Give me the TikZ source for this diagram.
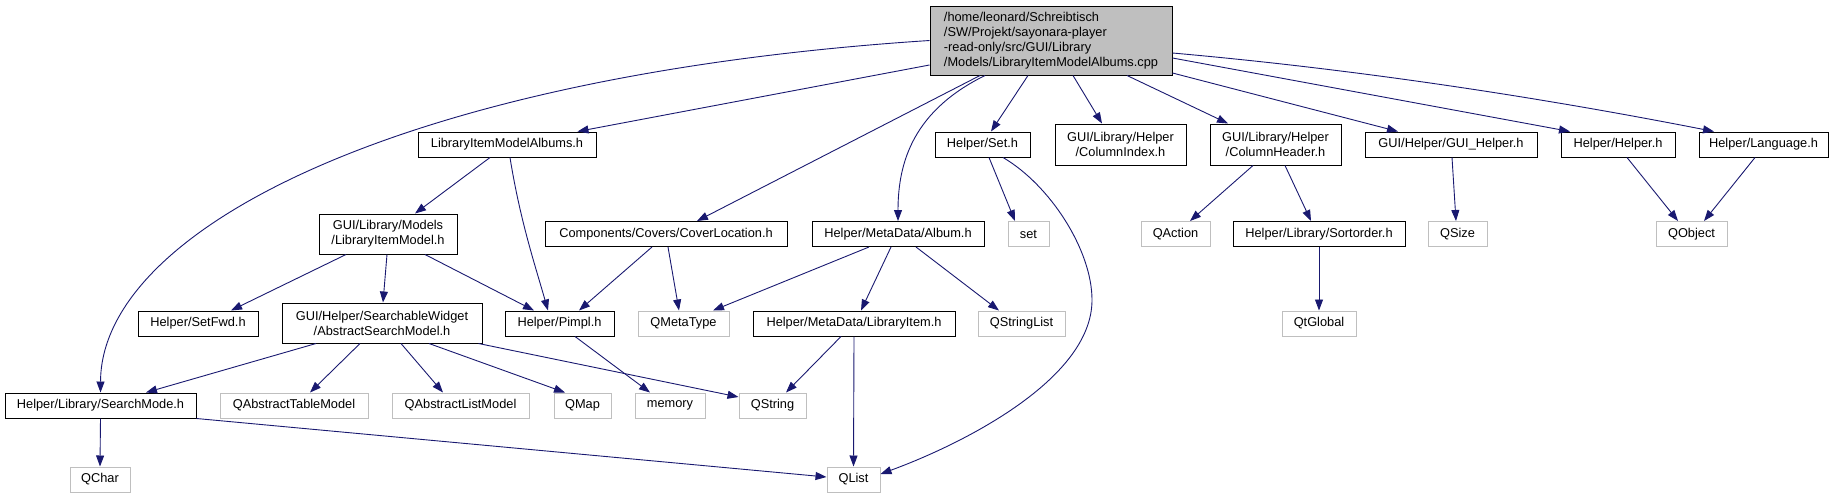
\documentclass[tikz,border=0pt]{standalone}
\usepackage{fontspec}
\setmainfont{Liberation Sans}
\usetikzlibrary{arrows.meta}
\definecolor{edgeblue}{RGB}{25,25,112}
\definecolor{boxgray}{RGB}{191,191,191}

\begin{document}
\begin{tikzpicture}[
  x=1pt, y=-1pt,
  box/.style={draw=black, line width=1pt, inner sep=0pt, minimum height=25pt, align=center, font=\fontsize{12.8}{15}\selectfont},
  sys/.style={box, draw=boxgray},
  arr/.style={edgeblue, line width=0.9pt, -{Triangle[length=11pt,width=8pt]}}
]
\useasboundingbox (0,0) rectangle (1835,499);

\node[box, fill=boxgray, align=left, minimum width=242pt, minimum height=69pt] (root) at (1051,40.5)
  {/home/leonard/Schreibtisch\\/SW/Projekt/sayonara-player\\-read-only/src/GUI/Library\\/Models/LibraryItemModelAlbums.cpp};

\node[box, minimum width=178pt] (albums) at (507,144.5) {LibraryItemModelAlbums.h};
\node[box, minimum width=95pt] (seth) at (982.5,144.5) {Helper/Set.h};
\node[box, minimum width=131pt, minimum height=41pt] (colindex) at (1120.5,144.5) {GUI/Library/Helper\\/ColumnIndex.h};
\node[box, minimum width=131pt, minimum height=41pt] (colheader) at (1275.5,144.5) {GUI/Library/Helper\\/ColumnHeader.h};
\node[box, minimum width=172pt] (guihelper) at (1451,144.5) {GUI/Helper/GUI\_Helper.h};
\node[box, minimum width=114pt] (helperh) at (1618,144.5) {Helper/Helper.h};
\node[box, minimum width=129pt] (language) at (1763.5,144.5) {Helper/Language.h};

\node[box, minimum width=138pt, minimum height=40pt] (itemmodel) at (388,234) {GUI/Library/Models\\/LibraryItemModel.h};
\node[box, minimum width=242pt] (coverloc) at (666,234) {Components/Covers/CoverLocation.h};
\node[box, minimum width=172pt] (album) at (898,234) {Helper/MetaData/Album.h};
\node[sys, minimum width=41pt] (set) at (1028.5,234) {set};
\node[sys, minimum width=69pt] (qaction) at (1175.5,234) {QAction};
\node[box, minimum width=172pt] (sortorder) at (1319,234) {Helper/Library/Sortorder.h};
\node[sys, minimum width=59pt] (qsize) at (1457.5,234) {QSize};
\node[sys, minimum width=71pt] (qobject) at (1691.5,234) {QObject};

\node[box, minimum width=120pt] (setfwd) at (198,323.5) {Helper/SetFwd.h};
\node[box, minimum width=200pt, minimum height=40pt] (searchmodel) at (382,323) {GUI/Helper/SearchableWidget\\/AbstractSearchModel.h};
\node[box, minimum width=109pt] (pimpl) at (559.5,323.5) {Helper/Pimpl.h};
\node[sys, minimum width=91pt] (qmetatype) at (683.5,323.5) {QMetaType};
\node[box, minimum width=202pt] (libitem) at (854,323.5) {Helper/MetaData/LibraryItem.h};
\node[sys, minimum width=87pt] (qstringlist) at (1021.5,323.5) {QStringList};
\node[sys, minimum width=74pt] (qtglobal) at (1319,323.5) {QtGlobal};

\node[box, minimum width=191pt] (searchmode) at (100.5,405.5) {Helper/Library/SearchMode.h};
\node[sys, minimum width=148pt] (qtablemodel) at (294,405.5) {QAbstractTableModel};
\node[sys, minimum width=137pt] (qlistmodel) at (460.5,405.5) {QAbstractListModel};
\node[sys, minimum width=57pt] (qmap) at (582.5,405.5) {QMap};
\node[sys, minimum width=70pt] (memory) at (670,405.5) {memory};
\node[sys, minimum width=67pt] (qstring) at (772.5,405.5) {QString};

\node[sys, minimum width=60pt] (qchar) at (100,479.5) {QChar};
\node[sys, minimum width=53pt] (qlist) at (853.5,479.5) {QList};

% includes of the .cpp file
\draw[arr] (root.west) .. controls (400,75) and (101,230) .. (searchmode.north);
\draw[arr] ([yshift=-24.5pt]root.west) -- ([xshift=-19pt]albums.north east);
\draw[arr] ([xshift=-71pt]root.south) -- ([xshift=31pt]coverloc.north);
\draw[arr] ([xshift=-66pt]root.south) .. controls (915,110) and (898,160) .. (album.north);
\draw[arr] ([xshift=-23pt]root.south) -- ([xshift=8.5pt]seth.north);
\draw[arr] ([xshift=22pt]root.south) -- ([xshift=-18.5pt]colindex.north);
\draw[arr] ([xshift=76pt]root.south) -- ([xshift=-47.5pt]colheader.north);
\draw[arr] ([yshift=-32.5pt]root.east) -- ([xshift=-53pt]guihelper.north);
\draw[arr] ([yshift=-17.5pt]root.east) -- ([xshift=-48pt]helperh.north);
\draw[arr] ([yshift=-12.5pt]root.east) .. controls (1353,69) and (1533,96) .. ([xshift=-49.5pt]language.north);

% headers
\draw[arr] ([xshift=-17pt]albums.south) -- ([xshift=27pt]itemmodel.north);
\draw[arr] ([xshift=3pt]albums.south) .. controls (520,220) and (535,265) .. ([xshift=-11.5pt]pimpl.north);
\draw[arr] ([xshift=-42pt]itemmodel.south) -- ([xshift=33pt]setfwd.north);
\draw[arr] ([xshift=-1pt]itemmodel.south) -- ([xshift=1pt]searchmodel.north);
\draw[arr] ([xshift=37pt]itemmodel.south) -- ([xshift=-25.5pt]pimpl.north);
\draw[arr] ([xshift=-14pt]coverloc.south) -- ([xshift=19.5pt]pimpl.north);
\draw[arr] ([xshift=2pt]coverloc.south) -- ([xshift=-4.5pt]qmetatype.north);
\draw[arr] ([xshift=-29pt]album.south) -- ([xshift=29.5pt]qmetatype.north);
\draw[arr] ([xshift=-7pt]album.south) -- ([xshift=7pt]libitem.north);
\draw[arr] ([xshift=18pt]album.south) -- ([xshift=-22.5pt]qstringlist.north);
\draw[arr] ([xshift=6.5pt]seth.south) -- ([xshift=-13.5pt]set.north);
\draw[arr] ([xshift=20.5pt]seth.south) .. controls (1050,185) and (1092,250) .. (1092,300)
  .. controls (1092,380) and (960,445) .. ([yshift=5.5pt]qlist.east);
\draw[arr] ([xshift=-22.5pt]colheader.south) -- ([xshift=14.5pt]qaction.north);
\draw[arr] ([xshift=9.5pt]colheader.south) -- ([xshift=-8pt]sortorder.north);
\draw[arr] ([xshift=1pt]guihelper.south) -- ([xshift=-1.5pt]qsize.north);
\draw[arr] ([xshift=9pt]helperh.south) -- ([xshift=-13.5pt]qobject.north);
\draw[arr] ([xshift=-8.5pt]language.south) -- ([xshift=12.5pt]qobject.north);
\draw[arr] (sortorder.south) -- (qtglobal.north);

\draw[arr] ([xshift=-66pt]searchmodel.south) -- ([xshift=45.5pt]searchmode.north);
\draw[arr] ([xshift=-22pt]searchmodel.south) -- ([xshift=16pt]qtablemodel.north);
\draw[arr] ([xshift=19pt]searchmodel.south) -- ([xshift=-17.5pt]qlistmodel.north);
\draw[arr] ([xshift=47pt]searchmodel.south) -- ([xshift=-17.5pt]qmap.north);
\draw[arr] ([xshift=-4pt]searchmodel.south east) -- ([yshift=8.5pt]qstring.west);
\draw[arr] ([xshift=15.5pt]pimpl.south) -- ([xshift=-20pt]memory.north);
\draw[arr] ([xshift=-13pt]libitem.south) -- ([xshift=13.5pt]qstring.north);
\draw[arr] (libitem.south) -- (qlist.north);
\draw[arr] (searchmode.south) -- (qchar.north);
\draw[arr] (searchmode.south east) -- ([yshift=2.5pt]qlist.west);
\end{tikzpicture}
\end{document}
